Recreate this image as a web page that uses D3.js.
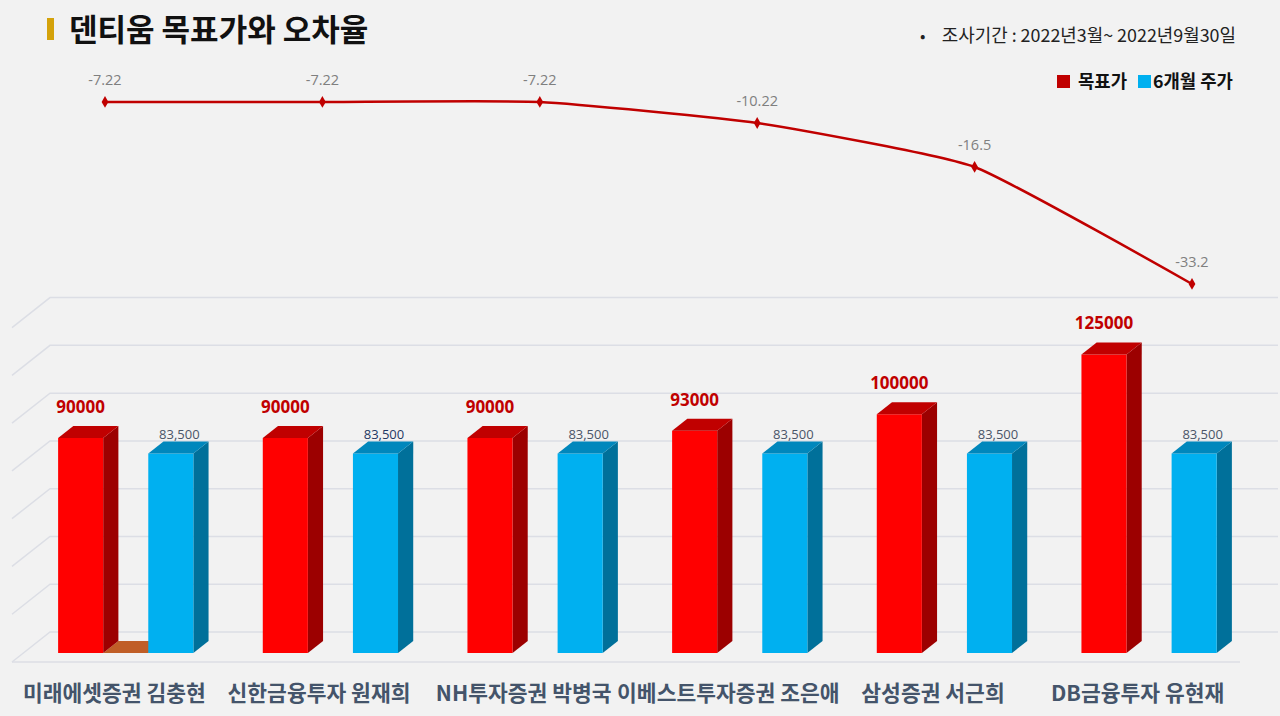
<!DOCTYPE html>
<html><head><meta charset="utf-8">
<script src="https://cdn.jsdelivr.net/npm/d3@7"></script>
<style>
html,body{margin:0;padding:0;background:#F2F2F2;}
svg{display:block;}
</style></head>
<body>
<svg id="chart" width="1280" height="716"></svg>
<script>
const categories = ["미래에셋증권 김충현","신한금융투자 원재희","NH투자증권 박병국","이베스트투자증권 조은애","삼성증권 서근희","DB금융투자 유현재"];
const targetPrice = [90000, 90000, 90000, 93000, 100000, 125000];
const stockPrice6m = [83500, 83500, 83500, 83500, 83500, 83500];
const hiddenSeries = [0, null, null, null, null, null];
const errorRate = [-7.22, -7.22, -7.22, -10.22, -16.5, -33.2];
const gridTicks = [0, 20000, 40000, 60000, 80000, 100000, 120000, 140000];

const svg = d3.select("#chart");
const KR = "'Noto Sans CJK KR','Noto Sans',sans-serif";
const NUM = "'Open Sans','Noto Sans',sans-serif";

svg.append("rect").attr("width",1280).attr("height",716).attr("fill","#F2F2F2");

// 3D geometry
const DX = 38, DY = 30;
const floorY = 662;
const x = d3.scaleBand().domain(categories).range([12, 1240]).paddingInner(0).paddingOuter(0);
const seriesKeys = ["target","hidden","price"];
const xs = d3.scaleBand().domain(seriesKeys).range([0, x.bandwidth()]).paddingInner(0).paddingOuter(0.77);
const y = d3.scaleLinear().domain([0, 140000]).range([0, 334.4]);
function P(xf, v, d){ return [xf + d*DX, floorY - y(v) - d*DY]; }

// gridlines: back wall + left side wall
const grid = svg.append("g");
gridTicks.forEach(t => {
  const a = P(12, t, 0), b = P(12, t, 1), c = P(1240, t, 1);
  grid.append("path").attr("d", `M${a}L${b}L${c}`).attr("fill","none")
      .attr("stroke","#DCDEE5").attr("stroke-width",1.5);
});
grid.append("line").attr("x1",12).attr("x2",1240).attr("y1",floorY).attr("y2",floorY)
    .attr("stroke","#DCDEE5").attr("stroke-width",1.5);

// 3D bars
const d0 = 0.3, d1 = 0.7;
function drawBar(g, xf, w, v, cols){
  const fl = P(xf, 0, d0), fr = P(xf+w, 0, d0);
  const tl = P(xf, v, d0), tr = P(xf+w, v, d0);
  const btl = P(xf, v, d1), btr = P(xf+w, v, d1), bbr = P(xf+w, 0, d1);
  if (v > 0) {
    g.append("path").attr("d", `M${fr}L${tr}L${btr}L${bbr}Z`).attr("fill", cols.side);
    g.append("path").attr("d", `M${fl}L${fr}L${tr}L${tl}Z`).attr("fill", cols.front);
  }
  g.append("path").attr("d", `M${tl}L${tr}L${btr}L${btl}Z`).attr("fill", cols.top);
}
const redCols = {front:"#FF0000", top:"#C00000", side:"#9C0000"};
const blueCols = {front:"#00B0F0", top:"#0087BC", side:"#00709A"};
const orangeCols = {front:"#ED7D31", top:"#C05E27", side:"#A04E20"};

const bars = svg.append("g");
categories.forEach((c, i) => {
  const g = bars.append("g");
  if (hiddenSeries[i] != null) drawBar(g, x(c)+xs("hidden"), xs.bandwidth(), hiddenSeries[i], orangeCols);
  drawBar(g, x(c)+xs("target"), xs.bandwidth(), targetPrice[i], redCols);
  drawBar(g, x(c)+xs("price"), xs.bandwidth(), stockPrice6m[i], blueCols);
});

// bar labels
categories.forEach((c, i) => {
  const rx = x(c)+xs("target") + xs.bandwidth()/2 + d0*DX;
  const rt = P(0, targetPrice[i], d1)[1];
  svg.append("text").attr("x", rx).attr("y", rt - 13).attr("text-anchor","middle")
     .attr("font-family", NUM).attr("font-weight","bold").attr("font-size", 17)
     .attr("fill","#C00000").text(targetPrice[i]);
  const bx = x(c)+xs("price") + xs.bandwidth()/2 + d0*DX + 8.5;
  const bt = P(0, stockPrice6m[i], d1)[1];
  svg.append("text").attr("x", bx).attr("y", bt - 2.5).attr("text-anchor","middle")
     .attr("font-family", NUM).attr("font-size", 13)
     .attr("fill", i === 1 ? "#1F3864" : "#4A5568").text(d3.format(",")(stockPrice6m[i]));
});

// category labels
svg.append("g").selectAll("text").data(categories).join("text")
  .attr("x", d => x(d) + x.bandwidth()/2).attr("y", 701).attr("text-anchor","middle")
  .attr("font-family", KR).attr("font-weight","bold").attr("font-size", 21.5)
  .attr("fill","#44546A").text(d => d);

// error-rate line
const lx = d3.scalePoint().domain(categories).range([105, 1192]);
const ly = d3.scaleLinear().domain([0, -40]).range([51.4, 331.6]);
const line = d3.line().x((d,i) => lx(categories[i])).y(d => ly(d)).curve(d3.curveCardinal.tension(0.55));
svg.append("path").datum(errorRate).attr("d", line).attr("fill","none")
   .attr("stroke","#C00000").attr("stroke-width",2.5);
svg.append("g").selectAll("path").data(errorRate).join("path")
   .attr("transform", (d,i) => `translate(${lx(categories[i])},${ly(d)})`)
   .attr("d", d3.symbol().type(d3.symbolDiamond).size(40)).attr("fill","#C00000");
svg.append("g").selectAll("text").data(errorRate).join("text")
   .attr("x", (d,i) => lx(categories[i])).attr("y", d => ly(d) - 17).attr("text-anchor","middle")
   .attr("font-family", NUM).attr("font-size", 14.5).attr("fill","#7F7F7F").text(d => d);

// title
svg.append("rect").attr("x",47).attr("y",18).attr("width",7).attr("height",22).attr("fill","#D4A20B");
svg.append("text").attr("x",69).attr("y",41).attr("font-family", KR).attr("font-weight","bold")
   .attr("font-size",31).attr("fill","#111").text("덴티움 목표가와 오차율");

// period
svg.append("text").attr("x",920).attr("y",42).attr("font-family", KR)
   .attr("font-size",16).attr("fill","#222").text("•");
svg.append("text").attr("x",1236).attr("y",42).attr("text-anchor","end").attr("font-family", KR)
   .attr("font-size",17.9).attr("fill","#222").text("조사기간 : 2022년3월~ 2022년9월30일");

// legend
const lg = svg.append("g");
lg.append("rect").attr("x",1057).attr("y",75).attr("width",13).attr("height",13).attr("fill","#C00000");
lg.append("text").attr("x",1078).attr("y",87.5).attr("font-family", KR).attr("font-weight","bold")
  .attr("font-size",17.8).attr("fill","#111").text("목표가");
lg.append("rect").attr("x",1138).attr("y",75).attr("width",13).attr("height",13).attr("fill","#00B0F0");
lg.append("text").attr("x",1153).attr("y",87.5).attr("font-family", KR).attr("font-weight","bold")
  .attr("font-size",17.8).attr("fill","#111").text("6개월 주가");
</script>
</body></html>
